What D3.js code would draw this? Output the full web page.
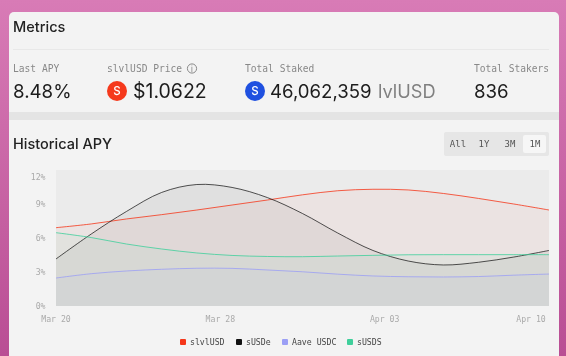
<!DOCTYPE html>
<html><head><meta charset="utf-8">
<script src="https://cdn.jsdelivr.net/npm/d3@7/dist/d3.min.js"></script>
<style>
html,body{margin:0;padding:0;width:566px;height:356px;overflow:hidden}
body{background:#d67ab4}
svg{display:block;filter:blur(0.4px)}
.sans{font-family:Inter,"Noto Sans",sans-serif}
.mono{font-family:"DejaVu Sans Mono","Liberation Mono",monospace}
</style></head><body><svg id="c" width="566" height="356"></svg>
<script>
const dayIndex=[0,1.5,3,4.5,6,7.5,9,10.5,12,13.5,15,16.5,18,19.5,21];
const slvlUSD=[6.91,7.24,7.68,8.06,8.47,8.91,9.35,9.81,10.17,10.30,10.24,9.93,9.49,9.00,8.47];
const sUSDe=[4.15,6.35,8.34,10.02,10.72,10.46,9.57,8.16,6.44,4.90,3.97,3.62,3.86,4.32,4.90];
const aaveUSDC=[2.47,2.85,3.09,3.24,3.33,3.32,3.18,3.02,2.81,2.65,2.58,2.56,2.60,2.72,2.82];
const sUSDS=[6.47,6.04,5.47,5.03,4.68,4.46,4.37,4.35,4.41,4.47,4.52,4.53,4.53,4.53,4.53];
const seriesNames=["slvlUSD","sUSDe","Aave USDC","sUSDS"];
const seriesColors=["#f5371a","#111111","#9b9ff5","#3fcf9b"];
const yTicks=[0,3,6,9,12];
const xTickDays=[0,7,14,21];
const xTickLabels=["Mar 20","Mar 28","Apr 03","Apr 10"];
const rangeButtons=["All","1Y","3M","1M"];
const metricLabels=["Last APY","slvlUSD Price","Total Staked","Total Stakers"];

const svg=d3.select("#c");
const defs=svg.append("defs");
const bg=defs.append("linearGradient").attr("id","bg").attr("x1",0).attr("y1",0).attr("x2",0).attr("y2",1);
bg.append("stop").attr("offset",0).attr("stop-color","#d87bb6");
bg.append("stop").attr("offset",1).attr("stop-color","#b94e94");
svg.append("rect").attr("width",566).attr("height",356).attr("fill","url(#bg)");
svg.append("rect").attr("x",9).attr("y",12).attr("width",550).attr("height",380).attr("rx",5).attr("fill","#f3f3f3");
svg.append("rect").attr("x",9).attr("y",112).attr("width",550).attr("height",8).attr("fill","#e4e4e4");
svg.append("line").attr("x1",13).attr("x2",549).attr("y1",49.5).attr("y2",49.5).attr("stroke","#e8e8e8");

const T=(x,y,s,size,fill,cls,w,anchor)=>svg.append("text").attr("x",x).attr("y",y).text(s)
  .attr("font-size",size).attr("fill",fill).attr("class",cls).attr("font-weight",w||400).attr("text-anchor",anchor||"start");
T(13,31.5,"Metrics",14.5,"#222","sans",500);
T(13,149,"Historical APY",14.5,"#222","sans",500);
[13,107,245,474].forEach((x,i)=>T(x,72,metricLabels[i],9.6,"#888","mono"));
T(13,98,"8.48%",18.7,"#1c1c1c","sans");
T(133,98,"$1.0622",19.5,"#1c1c1c","sans");
T(270,98,"46,062,359",18.6,"#1c1c1c","sans");
T(378,98,"lvlUSD",18.2,"#808080","sans");
T(474,98,"836",18.7,"#1c1c1c","sans");
// info icon
svg.append("circle").attr("cx",192).attr("cy",68.5).attr("r",4.6).attr("fill","none").attr("stroke","#888");
T(192,71.5,"i",7.5,"#777","sans",400,"middle");
// token icons
[[117,"#f5391c"],[255,"#1f50e0"]].forEach(([x,c])=>{
  svg.append("circle").attr("cx",x).attr("cy",91).attr("r",10).attr("fill",c);
  T(x,95,"S",11.5,"#fff","sans",500,"middle");
});

// range buttons
svg.append("rect").attr("x",444).attr("y",132).attr("width",105).attr("height",24).attr("rx",2).attr("fill","#e6e6e6");
svg.append("rect").attr("x",523).attr("y",135).attr("width",23).attr("height",18).attr("rx",2).attr("fill","#f6f6f6");
[458,484,510,535].forEach((x,i)=>T(x,147,rangeButtons[i],9,"#555","mono",400,"middle"));

// chart
const x=d3.scaleLinear().domain([0,21]).range([56,549]);
const y=d3.scaleLinear().domain([0,12]).range([306,170]);
svg.append("rect").attr("x",x(0)).attr("y",y(12)).attr("width",x(21)-x(0)).attr("height",y(0)-y(12)).attr("fill","#ebebeb");
const rows=[slvlUSD,sUSDe,aaveUSDC,sUSDS];
const area=d3.area().x((d,i)=>x(dayIndex[i])).y0(y(0)).y1(d=>y(d)).curve(d3.curveCatmullRom);
const line=d3.line().x((d,i)=>x(dayIndex[i])).y(d=>y(d)).curve(d3.curveCatmullRom);
rows.forEach((r,i)=>svg.append("path").attr("d",area(r)).attr("fill",seriesColors[i]).attr("fill-opacity",i==0?0.04:0.05));
rows.forEach((r,i)=>svg.append("path").attr("d",line(r)).attr("fill","none").attr("stroke",seriesColors[i]).attr("stroke-width",i==1?0.9:1).attr("stroke-opacity",0.8));

// axes
yTicks.forEach(t=>T(45.5,(t==12?176.7:y(t))+3,t+"%",8.2,"#aaa","mono",400,"end"));
xTickDays.forEach((d,i)=>{
  const px=i==3?x(d)-18:x(d);
  T(px,322,xTickLabels[i],8.2,"#aaa","mono",400,"middle");
});
// legend
const lx=[183,239,285,350];
seriesNames.forEach((n,i)=>{
  svg.append("rect").attr("x",lx[i]-3).attr("y",339).attr("width",6).attr("height",6).attr("rx",1).attr("fill",seriesColors[i]);
  T(lx[i]+7,345,n,8.2,"#444","mono");
});
</script></body></html>
